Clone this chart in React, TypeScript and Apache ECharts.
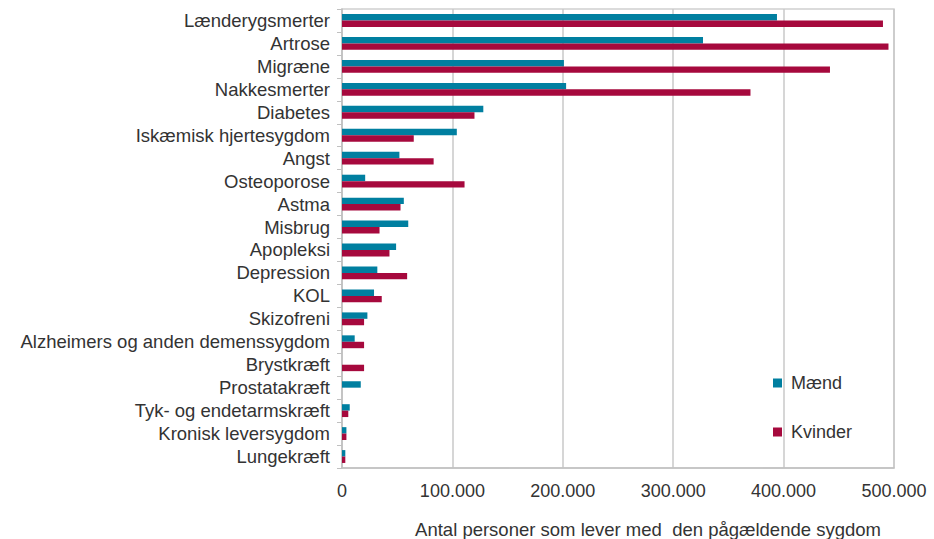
import React, { useEffect, useRef } from "react";
import * as echarts from "echarts";

const categories = [
  "Lænderygsmerter",
  "Artrose",
  "Migræne",
  "Nakkesmerter",
  "Diabetes",
  "Iskæmisk hjertesygdom",
  "Angst",
  "Osteoporose",
  "Astma",
  "Misbrug",
  "Apopleksi",
  "Depression",
  "KOL",
  "Skizofreni",
  "Alzheimers og anden demenssygdom",
  "Brystkræft",
  "Prostatakræft",
  "Tyk- og endetarmskræft",
  "Kronisk leversygdom",
  "Lungekræft",
];

const maend = [394000, 327000, 201000, 203000, 128000, 104000, 52000, 21000, 56000, 60000, 49000, 32000, 29000, 23000, 11500, 0, 17000, 7000, 4000, 3000];
const kvinder = [490000, 495000, 442000, 370000, 120000, 65000, 83000, 111000, 53000, 34000, 43000, 59000, 36000, 20000, 20000, 20000, 0, 5700, 4000, 3000];

const xTicks = [0, 100000, 200000, 300000, 400000, 500000];

const fmt = (v: number) => {
  if (v === 0) return "0";
  const s = Math.round(v).toString();
  return s.replace(/\B(?=(\d{3})+(?!\d))/g, ".");
};

export default function App() {
  const ref = useRef<HTMLDivElement>(null);
  useEffect(() => {
    if (!ref.current) return;
    const chart = echarts.init(ref.current, undefined, { renderer: "svg" });
    const font = "Liberation Sans, Arial, sans-serif";
    chart.setOption({
      animation: false,
      textStyle: { fontFamily: font },
      grid: {
        left: 342,
        right: 40,
        top: 9,
        bottom: 71,
        show: true,
        borderColor: "#d0d0d0",
        borderWidth: 1.5,
        containLabel: false,
        outerBoundsMode: "none",
      },
      legend: {
        orient: "vertical",
        left: 768,
        top: 369,
        itemWidth: 9,
        itemHeight: 9,
        itemGap: 31,
        icon: "rect",
        textStyle: { fontSize: 18, color: "#333", fontFamily: font, padding: [0, 0, 0, 4] },
        data: ["Mænd", "Kvinder"],
      },
      xAxis: {
        type: "value",
        min: 0,
        max: xTicks[xTicks.length - 1],
        interval: 100000,
        axisLine: { show: true, lineStyle: { color: "#c0c0c0", width: 1.5 } },
        axisTick: { show: false },
        splitLine: { show: true, lineStyle: { color: "#c8c8c8", width: 1.5 } },
        axisLabel: {
          fontSize: 18,
          color: "#333",
          margin: 14,
          formatter: (v: number) => fmt(v),
        },
        name: "Antal personer som lever med  den pågældende sygdom",
        nameLocation: "middle",
        nameGap: 52,
        nameTextStyle: { fontSize: 18.5, color: "#333", padding: [0, 0, 0, 60] },
      },
      yAxis: {
        type: "category",
        inverse: true,
        data: categories,
        axisLine: { show: true, lineStyle: { color: "#c0c0c0", width: 1.5 } },
        axisTick: { show: true, length: 5, interval: 0, lineStyle: { color: "#c0c0c0" } },
        axisLabel: { fontSize: 18.5, color: "#333", margin: 12, interval: 0 },
      },
      series: [
        {
          name: "Mænd",
          type: "bar",
          data: maend,
          itemStyle: { color: "#007FA0" },
          barCategoryGap: "44%",
          barGap: "0%",
        },
        {
          name: "Kvinder",
          type: "bar",
          data: kvinder,
          itemStyle: { color: "#A6093D" },
          barCategoryGap: "44%",
          barGap: "0%",
        },
      ],
    });
    return () => chart.dispose();
  }, []);
  return <div ref={ref} style={{ width: 934, height: 539, position: "absolute", left: 0, top: 0 }} />;
}
